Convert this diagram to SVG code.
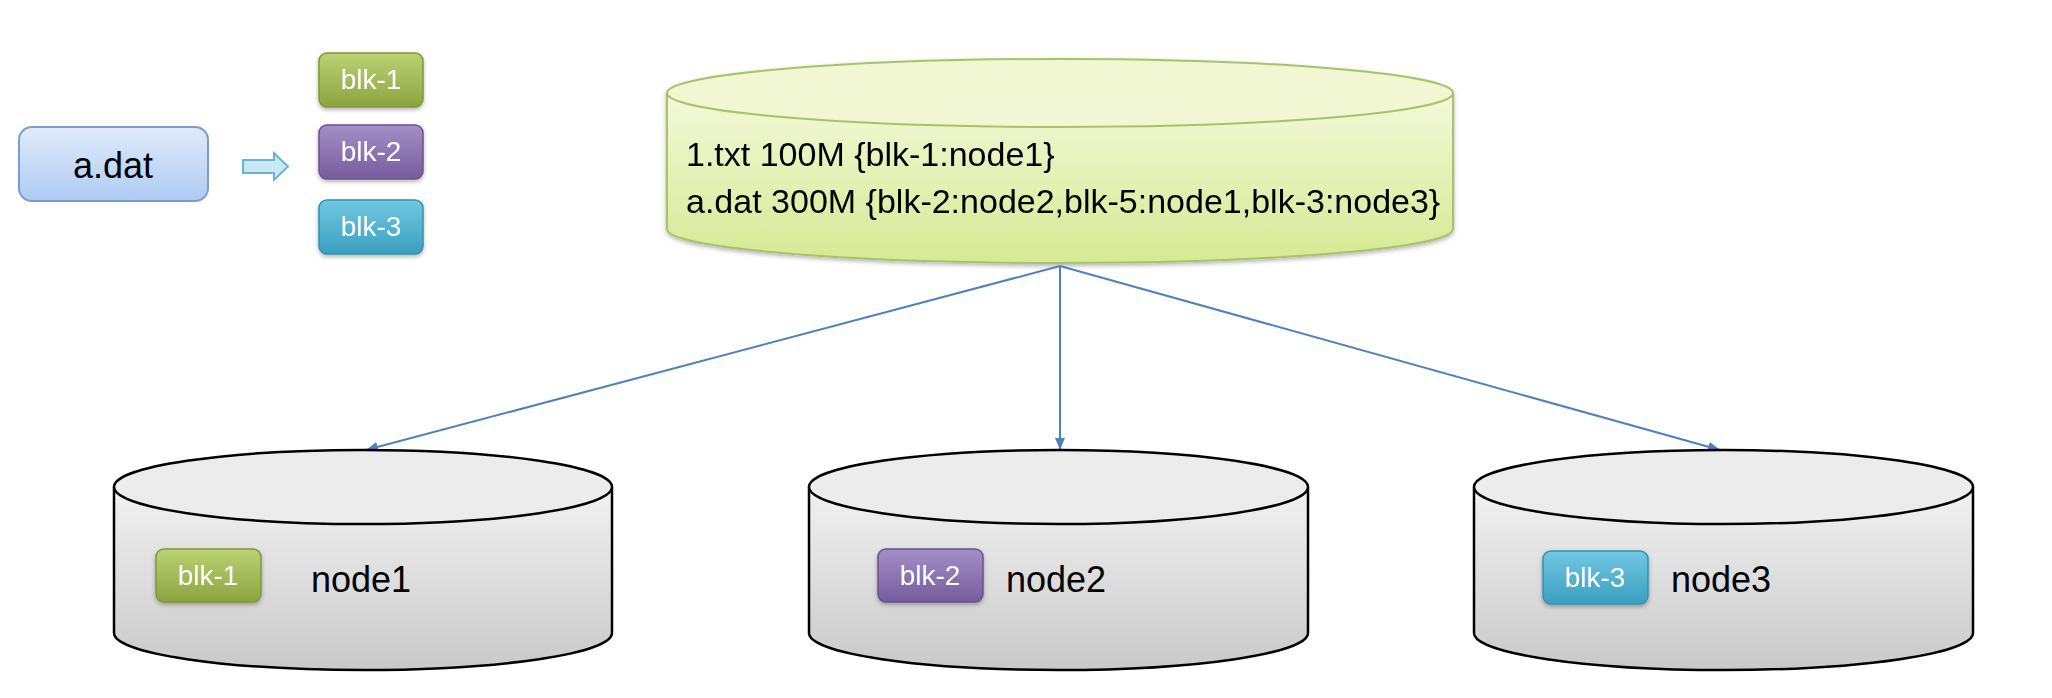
<svg xmlns="http://www.w3.org/2000/svg" width="2052" height="698" viewBox="0 0 2052 698">
<defs>
<linearGradient id="gBlue" x1="0" y1="0" x2="0" y2="1"><stop offset="0" stop-color="#e0ebfb"/><stop offset="1" stop-color="#aecbf3"/></linearGradient>
<linearGradient id="gGreen" x1="0" y1="0" x2="0" y2="1"><stop offset="0" stop-color="#bcd274"/><stop offset="1" stop-color="#8ba43f"/></linearGradient>
<linearGradient id="gPurple" x1="0" y1="0" x2="0" y2="1"><stop offset="0" stop-color="#a48fc8"/><stop offset="1" stop-color="#765c9c"/></linearGradient>
<linearGradient id="gCyan" x1="0" y1="0" x2="0" y2="1"><stop offset="0" stop-color="#71c8e2"/><stop offset="1" stop-color="#3a9fc0"/></linearGradient>
<linearGradient id="gTop" x1="0" y1="0" x2="0" y2="1"><stop offset="0" stop-color="#f3f9d8"/><stop offset="1" stop-color="#d6e993"/></linearGradient>
<linearGradient id="gGray" x1="0" y1="0" x2="0" y2="1"><stop offset="0" stop-color="#f2f2f2"/><stop offset="1" stop-color="#c9c9c9"/></linearGradient>
<filter id="sh" x="-20%" y="-20%" width="140%" height="150%"><feDropShadow dx="0" dy="2" stdDeviation="2" flood-color="#000" flood-opacity="0.3"/></filter>
<marker id="ah" viewBox="0 0 12 10" refX="12" refY="5" markerWidth="12" markerHeight="10" markerUnits="userSpaceOnUse" orient="auto"><path d="M0,0 L12,5 L0,10 Z" fill="#4f81bd"/></marker>
<style>
.t{font-family:"Liberation Sans",Arial,sans-serif;}
.blk{font-family:"Liberation Sans",Arial,sans-serif;font-size:28px;fill:#fff;text-anchor:middle;}
.lbl{font-family:"Liberation Sans",Arial,sans-serif;font-size:36px;fill:#000;}
.conn{stroke:#4f81bd;stroke-width:2;fill:none;marker-end:url(#ah);}
.cyl{fill:url(#gGray);stroke:#000;stroke-width:2.5;}
</style>
</defs>
<rect width="2052" height="698" fill="#ffffff"/>

<g id="adat">
<rect x="19" y="127" width="189" height="74" rx="13" fill="url(#gBlue)" stroke="#7a9dd0" stroke-width="2"/>
<text class="lbl" x="113" y="178" text-anchor="middle">a.dat</text>
</g>

<g id="split-arrow">
<path d="M243,160 L274,160 L274,153 L288,166.5 L274,180 L274,173 L243,173 Z" fill="#c9e8f4" stroke="#6cb2d2" stroke-width="2"/>
</g>

<g id="blk1-src" filter="url(#sh)">
<rect x="319" y="53" width="104" height="54" rx="8" fill="url(#gGreen)" stroke="#7f9838" stroke-width="1.5"/>
<text class="blk" x="371" y="89">blk-1</text>
</g>
<g id="blk2-src" filter="url(#sh)">
<rect x="319" y="125" width="104" height="54" rx="8" fill="url(#gPurple)" stroke="#6a528c" stroke-width="1.5"/>
<text class="blk" x="371" y="161">blk-2</text>
</g>
<g id="blk3-src" filter="url(#sh)">
<rect x="319" y="200" width="104" height="54" rx="8" fill="url(#gCyan)" stroke="#3590ad" stroke-width="1.5"/>
<text class="blk" x="371" y="236">blk-3</text>
</g>

<g id="namenode" filter="url(#sh)">
<path d="M667,93 L667,229 A393,34 0 0 0 1453,229 L1453,93 Z" fill="url(#gTop)" stroke="#a9c26a" stroke-width="2"/>
<ellipse cx="1060" cy="93" rx="393" ry="34" fill="#f0f7d2" stroke="#a9c26a" stroke-width="2"/>
<text class="t" x="686" y="166" font-size="34">1.txt 100M {blk-1:node1}</text>
<text class="t" x="686" y="213" font-size="34">a.dat 300M {blk-2:node2,blk-5:node1,blk-3:node3}</text>
</g>

<g id="connectors">
<line class="conn" x1="1060" y1="266" x2="366" y2="450"/>
<line class="conn" x1="1060" y1="266" x2="1060" y2="450"/>
<line class="conn" x1="1060" y1="266" x2="1720" y2="450"/>
</g>

<g id="node1">
<path class="cyl" d="M114,487 L114,633 A249,37 0 0 0 612,633 L612,487"/>
<ellipse cx="363" cy="487" rx="249" ry="37" fill="#ececec" stroke="#000" stroke-width="2.5"/>
<g filter="url(#sh)">
<rect x="156" y="549" width="105" height="53" rx="8" fill="url(#gGreen)" stroke="#7f9838" stroke-width="1.5"/>
<text class="blk" x="208" y="585">blk-1</text>
</g>
<text class="lbl" x="311" y="592">node1</text>
</g>

<g id="node2">
<path class="cyl" d="M809,487 L809,633 A249.5,37 0 0 0 1308,633 L1308,487"/>
<ellipse cx="1058.5" cy="487" rx="249.5" ry="37" fill="#ececec" stroke="#000" stroke-width="2.5"/>
<g filter="url(#sh)">
<rect x="878" y="549" width="105" height="53" rx="8" fill="url(#gPurple)" stroke="#6a528c" stroke-width="1.5"/>
<text class="blk" x="930" y="585">blk-2</text>
</g>
<text class="lbl" x="1006" y="592">node2</text>
</g>

<g id="node3">
<path class="cyl" d="M1474,487 L1474,633 A249.5,37 0 0 0 1973,633 L1973,487"/>
<ellipse cx="1723.5" cy="487" rx="249.5" ry="37" fill="#ececec" stroke="#000" stroke-width="2.5"/>
<g filter="url(#sh)">
<rect x="1543" y="551" width="105" height="53" rx="8" fill="url(#gCyan)" stroke="#3590ad" stroke-width="1.5"/>
<text class="blk" x="1595" y="587">blk-3</text>
</g>
<text class="lbl" x="1671" y="592">node3</text>
</g>
</svg>
